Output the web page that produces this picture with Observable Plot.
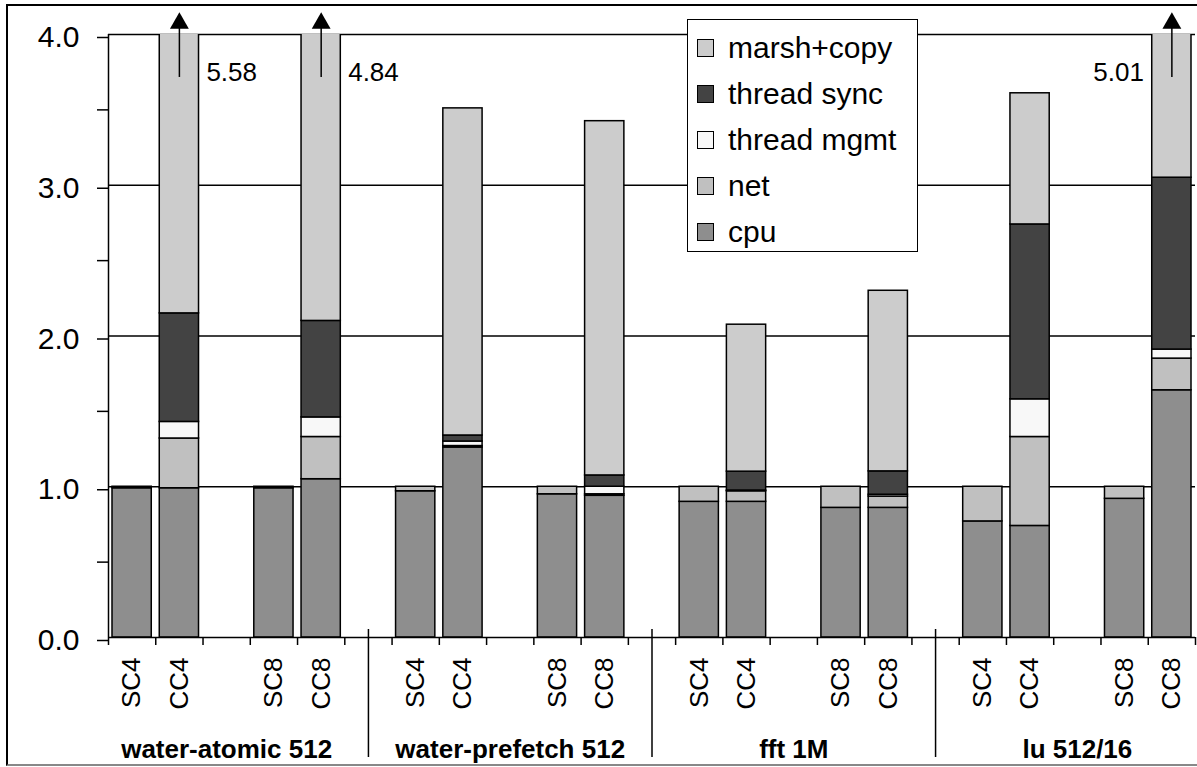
<!DOCTYPE html>
<html>
<head>
<meta charset="utf-8">
<script src="https://cdn.jsdelivr.net/npm/d3@7"></script>
<script src="https://cdn.jsdelivr.net/npm/@observablehq/plot@0.6"></script>
<style>
  html, body { margin: 0; padding: 0; background: #fff; }
  body { font-family: "Liberation Sans", Arial, sans-serif; }
  #wrap { position: relative; width: 1197px; height: 767px; overflow: hidden; }
  #border { position: absolute; left: 6px; top: 4px; width: 1200px; height: 762px;
            border-left: 2px solid #000; border-top: 2px solid #000; border-bottom: 2px solid #888;
            box-sizing: border-box; }
  #chart { position: absolute; left: 0; top: 0; }
  #legend { position: absolute; left: 687px; top: 19px; width: 231px; height: 233px;
            border: 1.5px solid #000; background: #fff; box-sizing: border-box;
            padding: 5px 0 0 9px; }
  .item { display: flex; align-items: center; height: 46px; font-size: 30px; color: #000; }
  .sw { width: 15px; height: 16px; border: 1.5px solid #000; margin-right: 14px; flex: none; }
</style>
</head>
<body>
<div id="wrap">
  <div id="border"></div>
  <div id="chart"></div>
  <div id="legend"></div>
</div>
<script>
// ---- data ----
const groups = ["water-atomic 512", "water-prefetch 512", "fft 1M", "lu 512/16"];
const configs = ["SC4", "CC4", "SC8", "CC8"];
const seriesNames = ["cpu", "net", "thread mgmt", "thread sync", "marsh+copy"];
// one value per bar: group order above, configs SC4, CC4, SC8, CC8 within each
const cpu        = [0.99, 0.99, 0.99, 1.05,  0.97, 1.26, 0.95, 0.94,  0.90, 0.90, 0.86, 0.86,  0.77, 0.74, 0.92, 1.64];
const net        = [0.01, 0.33, 0.01, 0.28,  0.03, 0.01, 0.05, 0.01,  0.10, 0.07, 0.14, 0.075, 0.23, 0.59, 0.08, 0.21];
const threadMgmt = [0.00, 0.11, 0.00, 0.13,  0.00, 0.03, 0.00, 0.05,  0.00, 0.005, 0.00, 0.012, 0.00, 0.25, 0.00, 0.06];
const threadSync = [0.00, 0.72, 0.00, 0.64,  0.00, 0.04, 0.00, 0.075, 0.00, 0.125, 0.00, 0.155, 0.00, 1.16, 0.00, 1.14];
const marshCopy  = [0.00, 3.43, 0.00, 2.74,  0.00, 2.17, 0.00, 2.35,  0.00, 0.975, 0.00, 1.198, 0.00, 0.87, 0.00, 1.96];
const yTicks = [0, 1, 2, 3, 4];
const yMinorTicks = [0.5, 1.5, 2.5, 3.5];

// ---- styles / layout ----
const seriesColors = ["#8e8e8e", "#c0c0c0", "#f8f8f8", "#434343", "#cccccc"];
const slotsPerGroup = 6;          // SC4, CC4, gap, SC8, CC8, gap
const barSlot = [0, 1, 3, 4];     // slot of each config inside a group
const nSlots = groups.length * slotsPerGroup - 1;
const yMax = 4;
const font = "'Liberation Sans', Arial, sans-serif";

const seriesData = [cpu, net, threadMgmt, threadSync, marshCopy];
const rows = [];
const bars = [];
groups.forEach((g, gi) => configs.forEach((c, ci) => {
  const b = gi * configs.length + ci;
  const slot = gi * slotsPerGroup + barSlot[ci];
  let acc = 0;
  seriesNames.forEach((s, si) => {
    const v = seriesData[si][b];
    if (v > 0) rows.push({slot, series: s, y1: acc, y2: acc + v});
    acc += v;
  });
  bars.push({slot, group: g, config: c, total: Math.round(acc * 100) / 100, last: b === groups.length * configs.length - 1});
}));
const overflow = bars.filter(d => d.total > yMax);
const groupCenters = groups.map((g, gi) => ({group: g, x: gi * slotsPerGroup + 2.5}));
const separators = groups.slice(1).map((g, gi) => (gi + 1) * slotsPerGroup - 0.5);

const chart = Plot.plot({
  width: 1197,
  height: 767,
  marginLeft: 108,
  marginRight: 2,
  marginTop: 34,
  marginBottom: 130,
  style: {fontFamily: font, fontSize: "26px", color: "#000", background: "transparent", overflow: "visible"},
  x: {domain: [0, nSlots], axis: null},
  y: {domain: [0, yMax], axis: null},
  color: {type: "ordinal", domain: seriesNames, range: seriesColors},
  marks: [
    Plot.ruleY(yTicks.filter(d => d > 0), {stroke: "#000", strokeWidth: 1.5}),
    Plot.rect(rows, {x1: d => d.slot, x2: d => d.slot + 1, y1: "y1", y2: "y2", fill: "series",
      stroke: "#000", strokeWidth: 1.5, insetLeft: 4, insetRight: 4, clip: true}),
    // overflow arrows
    Plot.ruleX(overflow, {x: d => d.slot + 0.5, y1: yMax - 0.285, y2: yMax + 0.05, stroke: "#000", strokeWidth: 1.5}),
    Plot.dot(overflow, {x: d => d.slot + 0.5, y: yMax + 0.075, symbol: "triangle", r: 7, fill: "#000", stroke: "none"}),
    Plot.text(overflow.filter(d => !d.last), {x: d => d.slot + 0.5, y: yMax - 0.25, text: d => d.total.toFixed(2),
      textAnchor: "start", dx: 27, fontSize: 26}),
    Plot.text(overflow.filter(d => d.last), {x: d => d.slot + 0.5, y: yMax - 0.25, text: d => d.total.toFixed(2),
      textAnchor: "end", dx: -28, fontSize: 26}),
    // axes
    Plot.ruleX([0], {stroke: "#000", strokeWidth: 1.5}),
    Plot.ruleY([0], {stroke: "#000", strokeWidth: 1.5}),
    Plot.axisY(yTicks, {label: null, tickFormat: d3.format(".1f"), tickSize: 11, tickPadding: 18, fontSize: 30, dy: 3, strokeWidth: 1.5}),
    Plot.axisY(yMinorTicks, {label: null, tickFormat: () => "", tickSize: 11, strokeWidth: 1.5}),
    Plot.axisX(d3.range(nSlots + 1), {label: null, tickFormat: () => "", tickSize: 8, strokeWidth: 1.5}),
    Plot.text(bars, {x: d => d.slot + 0.5, y: 0, text: "config", rotate: -90, textAnchor: "end",
      lineAnchor: "middle", dy: 20, fontSize: 26}),
    Plot.text(groupCenters, {x: "x", y: 0, text: "group", dy: 112, fontWeight: "bold", fontSize: 26, lineAnchor: "middle"}),
    Plot.ruleX(separators, {insetTop: 595, insetBottom: -120, stroke: "#000", strokeWidth: 1.5})
  ]
});
document.getElementById("chart").appendChild(chart);

// legend
const legend = document.getElementById("legend");
seriesNames.slice().reverse().forEach(s => {
  const item = document.createElement("div");
  item.className = "item";
  const sw = document.createElement("div");
  sw.className = "sw";
  sw.style.background = seriesColors[seriesNames.indexOf(s)];
  item.appendChild(sw);
  item.appendChild(document.createTextNode(s));
  legend.appendChild(item);
});
</script>
</body>
</html>
